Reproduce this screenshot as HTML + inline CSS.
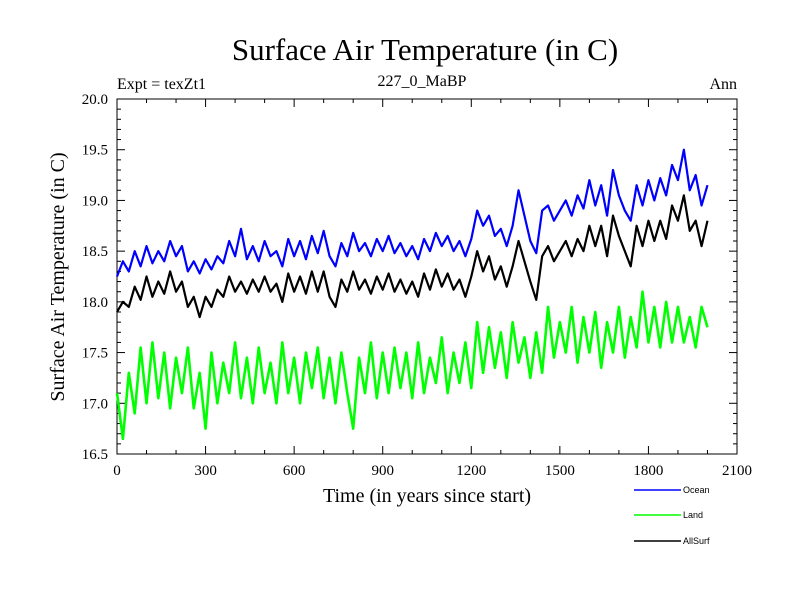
<!DOCTYPE html>
<html><head><meta charset="utf-8"><style>
body{margin:0;background:#fff;width:800px;height:600px;overflow:hidden}
text{font-family:"Liberation Serif",serif}
</style></head><body>
<svg id="chart" width="800" height="600" viewBox="0 0 800 600">
<text x="425" y="60" font-size="31" text-anchor="middle">Surface Air Temperature (in C)</text>
<text x="117" y="89" font-size="16">Expt = texZt1</text>
<text x="422" y="86" font-size="16" text-anchor="middle">227_0_MaBP</text>
<text x="737" y="89" font-size="16" text-anchor="end">Ann</text>
<text transform="translate(64,277) rotate(-90)" font-size="20" text-anchor="middle">Surface Air Temperature (in C)</text>
<text x="427" y="502" font-size="20" text-anchor="middle">Time (in years since start)</text>
<g id="axes"></g>
<g id="series"></g>
<g id="legend"></g>
</svg>
<script>
const years=[0,20,40,60,80,100,120,140,160,180,200,220,240,260,280,300,320,340,360,380,400,420,440,460,480,500,520,540,560,580,600,620,640,660,680,700,720,740,760,780,800,820,840,860,880,900,920,940,960,980,1000,1020,1040,1060,1080,1100,1120,1140,1160,1180,1200,1220,1240,1260,1280,1300,1320,1340,1360,1380,1400,1420,1440,1460,1480,1500,1520,1540,1560,1580,1600,1620,1640,1660,1680,1700,1720,1740,1760,1780,1800,1820,1840,1860,1880,1900,1920,1940,1960,1980,2000];
const ocean=[18.25,18.4,18.3,18.5,18.35,18.55,18.38,18.5,18.4,18.6,18.45,18.55,18.3,18.4,18.28,18.42,18.32,18.45,18.38,18.6,18.45,18.72,18.42,18.55,18.4,18.6,18.45,18.5,18.35,18.62,18.45,18.6,18.42,18.65,18.48,18.7,18.45,18.35,18.58,18.45,18.68,18.5,18.58,18.45,18.62,18.5,18.65,18.48,18.58,18.45,18.55,18.42,18.62,18.5,18.68,18.55,18.65,18.5,18.6,18.45,18.62,18.9,18.75,18.85,18.65,18.72,18.55,18.75,19.1,18.85,18.6,18.48,18.9,18.95,18.8,18.9,19.0,18.85,19.05,18.92,19.2,18.95,19.15,18.85,19.3,19.05,18.9,18.8,19.15,18.95,19.2,19.0,19.22,19.05,19.35,19.2,19.5,19.1,19.25,18.95,19.15];
const land=[17.1,16.65,17.3,16.9,17.55,17.0,17.6,17.05,17.5,16.95,17.45,17.1,17.55,16.95,17.3,16.75,17.5,17.0,17.4,17.1,17.6,17.05,17.45,17.0,17.55,17.1,17.4,17.0,17.6,17.1,17.45,17.0,17.5,17.15,17.55,17.05,17.45,17.0,17.5,17.1,16.75,17.45,17.1,17.6,17.05,17.5,17.1,17.55,17.15,17.5,17.05,17.6,17.1,17.45,17.2,17.65,17.1,17.5,17.2,17.6,17.15,17.8,17.3,17.75,17.35,17.7,17.25,17.8,17.4,17.65,17.25,17.7,17.3,17.95,17.45,17.8,17.5,17.95,17.4,17.85,17.5,17.9,17.35,17.8,17.5,17.95,17.45,17.85,17.55,18.1,17.6,17.95,17.55,18.0,17.6,17.95,17.6,17.85,17.55,17.95,17.75];
const allSurf=[17.9,18.0,17.95,18.15,18.02,18.25,18.05,18.2,18.08,18.3,18.1,18.2,17.95,18.05,17.85,18.05,17.95,18.12,18.05,18.25,18.1,18.2,18.08,18.22,18.1,18.25,18.1,18.18,18.0,18.28,18.1,18.25,18.08,18.3,18.1,18.3,18.05,17.95,18.22,18.1,18.3,18.12,18.22,18.08,18.25,18.12,18.28,18.1,18.22,18.08,18.2,18.05,18.28,18.12,18.32,18.15,18.28,18.12,18.22,18.05,18.25,18.5,18.3,18.45,18.22,18.35,18.15,18.35,18.6,18.4,18.2,18.02,18.45,18.55,18.4,18.5,18.6,18.45,18.62,18.5,18.75,18.55,18.75,18.45,18.85,18.65,18.5,18.35,18.75,18.55,18.8,18.6,18.8,18.62,18.95,18.8,19.05,18.7,18.8,18.55,18.8];
const xTicks=[0,300,600,900,1200,1500,1800,2100];
const yTicks=["16.5","17.0","17.5","18.0","18.5","19.0","19.5","20.0"];
const NS='http://www.w3.org/2000/svg';
const X0=117,X1=737,Y0=454,Y1=99;
const xs=v=>X0+(v/2100)*(X1-X0);
const ys=v=>Y0-(v-16.5)/3.5*(Y0-Y1);
function mk(tag,attrs,parent){const e=document.createElementNS(NS,tag);for(const k in attrs)e.setAttribute(k,attrs[k]);parent.appendChild(e);return e;}
const axes=document.getElementById('axes');
const frame=mk('rect',{x:X0,y:Y1,width:X1-X0,height:Y0-Y1,fill:'none',stroke:'#000','stroke-width':1},axes);


for(let v=0;v<=2100;v+=100){const L=(v%300===0)?8:4;const x=xs(v);
 mk('line',{x1:x,x2:x,y1:Y0,y2:Y0-L,stroke:'#000'},axes);mk('line',{x1:x,x2:x,y1:Y1,y2:Y1+L,stroke:'#000'},axes);}
for(let i=0;i<=35;i++){const v=16.5+i*0.1;const L=(i%5===0)?8:4;const y=ys(v);
 mk('line',{x1:X0,x2:X0+L,y1:y,y2:y,stroke:'#000'},axes);mk('line',{x1:X1,x2:X1-L,y1:y,y2:y,stroke:'#000'},axes);}
xTicks.forEach(v=>{const t=mk('text',{x:xs(v),y:475,'font-size':15,'text-anchor':'middle'},axes);t.textContent=v;
 
 });
yTicks.forEach(v=>{const t=mk('text',{x:108,y:ys(parseFloat(v))+5,'font-size':15,'text-anchor':'end'},axes);t.textContent=v;
 
 });
const ser=document.getElementById('series');
function line(vals,color,name,w){const p=mk('polyline',{points:vals.map((v,i)=>xs(years[i])+','+ys(v)).join(' '),fill:'none',stroke:color,'stroke-width':w,'stroke-linejoin':'round'},ser);
 
 }
line(land,'#00ff00','land-line',2.6);
line(ocean,'#0000ff','ocean-line',2.2);
line(allSurf,'#000000','allsurf-line',2.2);
const lg=document.getElementById('legend');
[['Ocean','#0000ff',490],['Land','#00ff00',515],['AllSurf','#000',541]].forEach(([n,c,y])=>{
 const l=mk('line',{x1:634,x2:681,y1:y,y2:y,stroke:c,'stroke-width':1.5},lg);
 
 
 const t=mk('text',{x:683,y:y+3,'font-size':9,style:'font-family:"Liberation Sans",sans-serif'},lg);t.textContent=n;
 
 });
</script>
</body></html>
